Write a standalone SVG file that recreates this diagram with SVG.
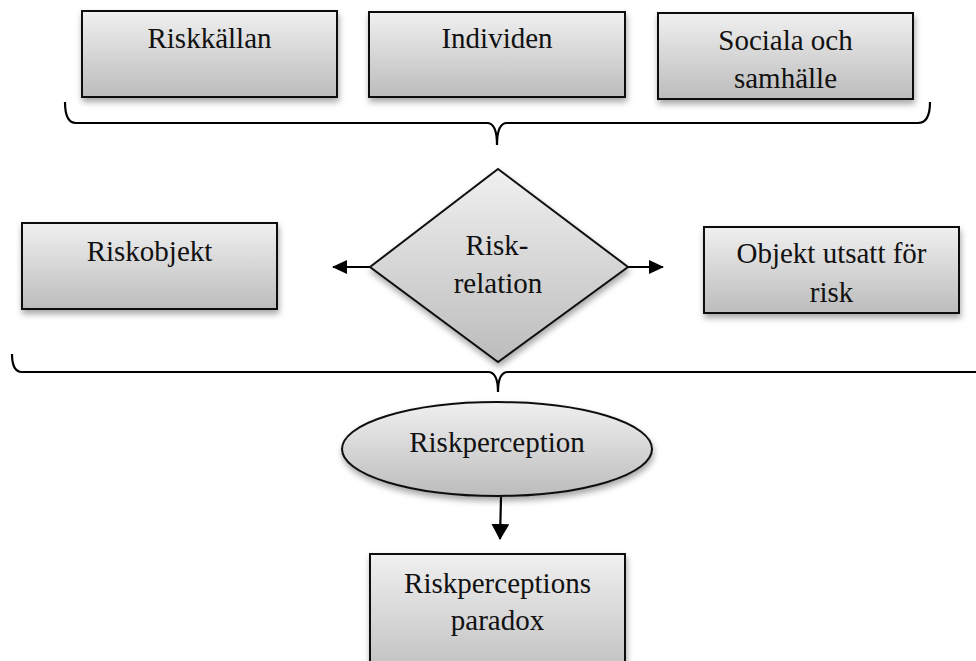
<svg xmlns="http://www.w3.org/2000/svg" width="976" height="661" viewBox="0 0 976 661">
<defs>
<linearGradient id="g" x1="0" y1="0" x2="0" y2="1">
<stop offset="0" stop-color="#f0f0f0"/>
<stop offset="1" stop-color="#bcbcbc"/>
</linearGradient>
<filter id="sh" x="-10%" y="-10%" width="130%" height="140%">
<feDropShadow dx="1" dy="4" stdDeviation="3" flood-color="#000" flood-opacity="0.35"/>
</filter>
<marker id="ah" markerWidth="15" markerHeight="14" refX="14" refY="7" orient="auto" markerUnits="userSpaceOnUse" viewBox="0 0 15 14">
<path d="M0,0 L15,7 L0,14 Z" fill="#000"/>
</marker>
<marker id="ah2" markerWidth="16" markerHeight="18" refX="15" refY="9" orient="auto" markerUnits="userSpaceOnUse" viewBox="0 0 16 18">
<path d="M0,0 L16,9 L0,18 Z" fill="#000"/>
</marker>
</defs>
<style>
.box{fill:url(#g);stroke:#111;stroke-width:2;filter:url(#sh)}
.t{font-family:"Liberation Serif","Times New Roman",serif;font-size:29px;fill:#111;text-anchor:middle}
.ln{fill:none;stroke:#000;stroke-width:2.2}
</style>
<g id="n-riskkallan"><rect class="box" x="82" y="11" width="255" height="86"/><text class="t" x="209.5" y="48">Riskkällan</text></g>
<g id="n-individen"><rect class="box" x="369" y="12" width="256" height="85"/><text class="t" x="497" y="48">Individen</text></g>
<g id="n-sociala"><rect class="box" x="658" y="13" width="255" height="86"/><text class="t" x="785.5" y="50">Sociala och</text><text class="t" x="785.5" y="88">samhälle</text></g>
<g id="n-riskobjekt"><rect class="box" x="22" y="223" width="255" height="86"/><text class="t" x="149.5" y="261">Riskobjekt</text></g>
<g id="n-riskrelation"><polygon class="box" points="498,169 628,267 498,362 370,267"/><text class="t" x="497" y="255">Risk-</text><text class="t" x="498" y="293">relation</text></g>
<g id="n-objekt"><rect class="box" x="704" y="227" width="255" height="86"/><text class="t" x="831.5" y="263">Objekt utsatt för</text><text class="t" x="831.5" y="302">risk</text></g>
<g id="n-riskperception"><ellipse class="box" cx="497" cy="449" rx="155" ry="47"/><text class="t" x="497" y="452">Riskperception</text></g>
<g id="n-paradox"><rect class="box" x="370" y="554" width="255" height="130"/><text class="t" x="497.5" y="593">Riskperceptions</text><text class="t" x="497.5" y="630">paradox</text></g>
<g id="connectors">
<path class="ln" d="M65,102 Q65,123 76,123 H487 Q497,123 497,145 Q497,123 507,123 H918 Q930,123 930,102"/>
<path class="ln" d="M12,354 Q12,372 22,372 H488 Q498,372 498,392 Q498,372 508,372 H976"/>
<line class="ln" x1="370" y1="267" x2="333" y2="267" marker-end="url(#ah)"/>
<line class="ln" x1="628" y1="267" x2="663" y2="267" marker-end="url(#ah)"/>
<line class="ln" x1="501" y1="497" x2="500" y2="539" marker-end="url(#ah2)"/>
</g>
</svg>
